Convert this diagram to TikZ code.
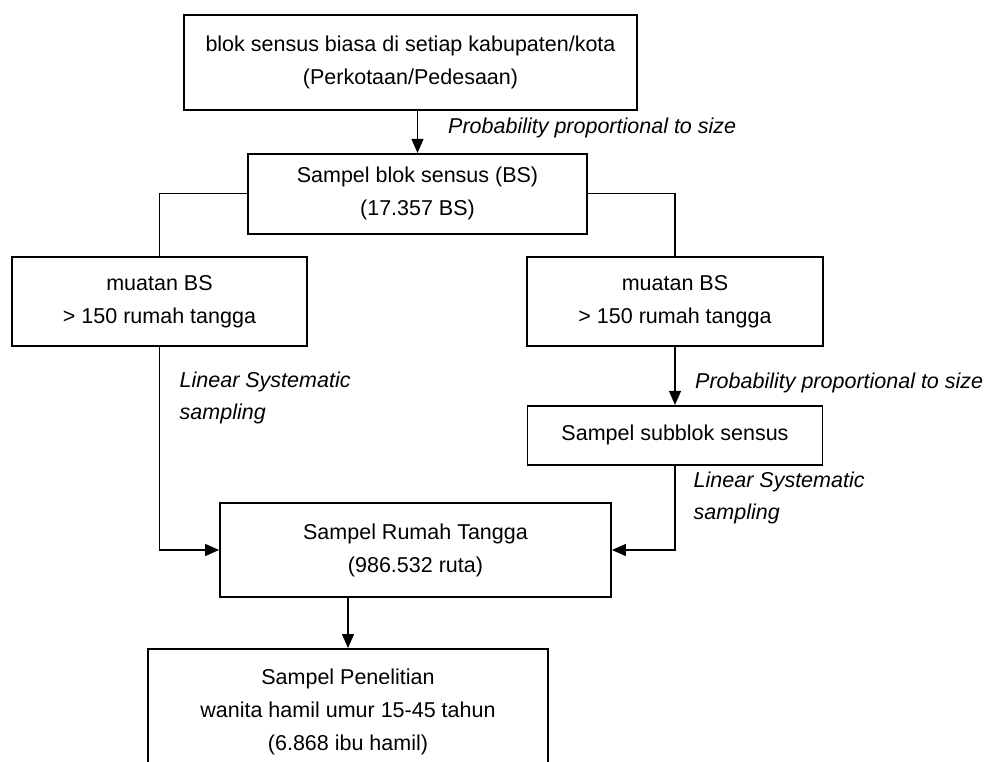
\documentclass[tikz,border=0pt]{standalone}
\usepackage{fontspec}
\setmainfont{Liberation Sans}
\usetikzlibrary{arrows.meta,positioning,calc}

\begin{document}
\begin{tikzpicture}[
    x=1pt, y=1pt,
    every node/.style={align=center},
    box/.style={
        rectangle, draw=black, line width=1.8pt, inner sep=0pt,
        font=\fontsize{21.5}{33}\selectfont
    },
    lbl/.style={font=\fontsize{21.5}{32}\selectfont\itshape, inner sep=0pt},
    link/.style={line width=1.3pt, black},
    arr/.style={link, -{Triangle[length=14pt,width=12pt]}}
]
\clip (0,0) rectangle (991,-762);
\fill[white] (0,0) rectangle (991,-762);

% kotak-kotak
\node[box, minimum width=453pt, minimum height=95pt] (populasi) at (410.5,-62.5)
    {blok sensus biasa di setiap kabupaten/kota\\(Perkotaan/Pedesaan)};
\node[box, minimum width=339pt, minimum height=80pt, below=42pt of populasi, xshift=7pt] (sampelbs)
    {Sampel blok sensus (BS)\\(17.357 BS)};

\node[box, minimum width=295pt, minimum height=89pt] (muatankiri) at (159.5,-301.5)
    {muatan BS\\> 150 rumah tangga};
\node[box, minimum width=296pt, minimum height=89pt] (muatankanan) at (675,-301.5)
    {muatan BS\\> 150 rumah tangga};
\node[box, minimum width=295pt, minimum height=59pt, below=58pt of muatankanan] (subblok)
    {Sampel subblok sensus};

\node[box, minimum width=391pt, minimum height=94pt] (ruta) at (415.5,-550)
    {Sampel Rumah Tangga\\(986.532 ruta)};
\node[box, minimum width=400pt, minimum height=126pt, anchor=north] (penelitian) at (348,-648)
    {Sampel Penelitian\\wanita hamil umur 15-45 tahun\\(6.868 ibu hamil)};

% garis dan panah
\draw[arr] (populasi.south -| sampelbs.north) -- (sampelbs.north);
\draw[link] (sampelbs.west) -| (muatankiri.north);
\draw[link] (sampelbs.east) -| (muatankanan.north);
\draw[arr] (muatankiri.south) |- (ruta.west);
\draw[arr] (muatankanan.south) -- (subblok.north);
\draw[arr] (subblok.south) |- (ruta.east);
\draw[arr] (ruta.south -| penelitian.north) -- (penelitian.north);

% keterangan metode
\node[lbl, anchor=west] (ppstop) at ($(sampelbs.north)+(30.5pt,25pt)$)
    {Probability proportional to size};
\node[lbl, anchor=west] (ppskanan) at ($(muatankanan.south)+(20pt,-36pt)$)
    {Probability proportional to size};
\node[lbl, anchor=west, align=left] (lsskiri) at ($(muatankiri.south)+(20pt,-51pt)$)
    {Linear Systematic\\sampling};
\node[lbl, anchor=west, align=left] (lsskanan) at ($(subblok.south)+(18.5pt,-32pt)$)
    {Linear Systematic\\sampling};
\end{tikzpicture}
\end{document}
